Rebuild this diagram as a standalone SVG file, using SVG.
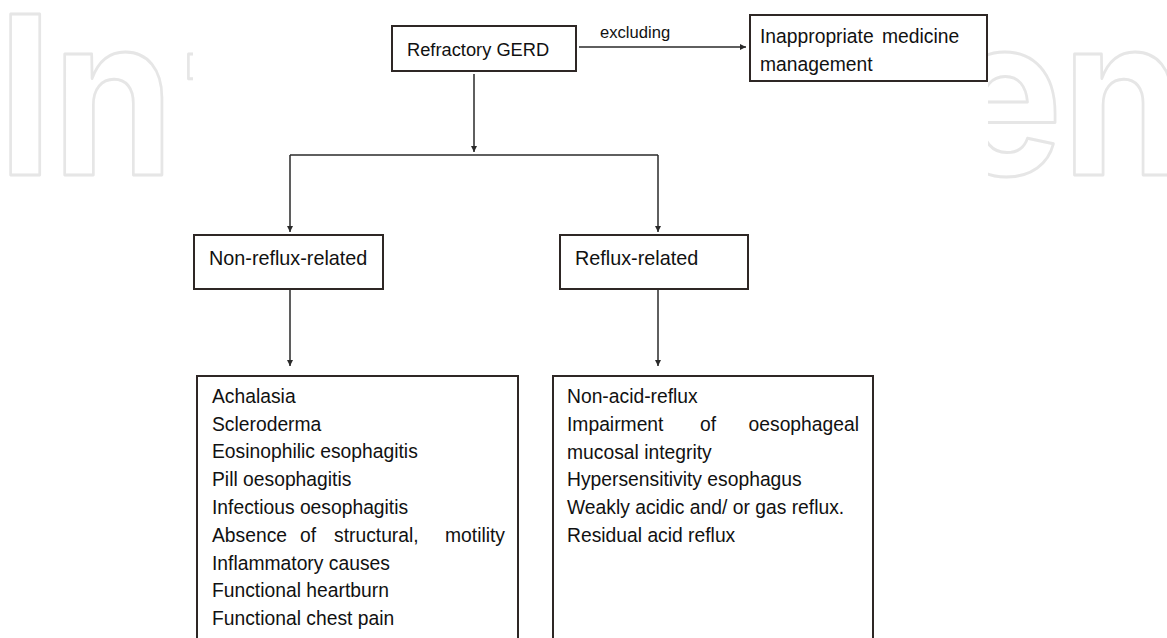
<svg xmlns="http://www.w3.org/2000/svg" width="1167" height="638" viewBox="0 0 1167 638">
<style>
.wm{font-family:Inter,Lato,sans-serif;font-weight:700;font-size:222px;fill:none;stroke:#e6e6e6;stroke-width:3;stroke-linejoin:round}
.box{fill:#fff;stroke:#2e2725;stroke-width:2}
.t{font-family:"Liberation Sans",Arial,sans-serif;font-size:19.3px;fill:#111}
.c{fill:none;stroke:#2a2a2a;stroke-width:1.5}
</style>
<defs>
<marker id="ah" markerUnits="userSpaceOnUse" markerWidth="8" markerHeight="8" refX="6" refY="3" orient="auto">
<path d="M0,0 L6,3 L0,6 Z" fill="#2a2a2a"/>
</marker>
<clipPath id="cl"><rect x="0" y="0" width="193" height="638"/></clipPath>
<clipPath id="cr"><rect x="988" y="0" width="179" height="638"/></clipPath>
</defs>
<rect width="1167" height="638" fill="#fff"/>
<g id="watermark">
<g clip-path="url(#cl)"><text class="wm" x="-2.6" y="175" transform="scale(0.88 1)">In<tspan dx="14">t</tspan></text></g>
<g clip-path="url(#cr)"><text class="wm" x="1075" y="175" transform="scale(0.88 1)">en</text></g>
</g>
<g id="connectors">
<path class="c" d="M474,74 V152" marker-end="url(#ah)"/>
<path class="c" d="M290,155 H658"/>
<path class="c" d="M290,155 V232" marker-end="url(#ah)"/>
<path class="c" d="M658,155 V232" marker-end="url(#ah)"/>
<path class="c" d="M290,290 V366" marker-end="url(#ah)"/>
<path class="c" d="M658,290 V366" marker-end="url(#ah)"/>
<path class="c" d="M579,47 H746" marker-end="url(#ah)"/>
<text class="t" x="600" y="38" style="font-size:16.6px">excluding</text>
</g>
<g id="refractory">
<rect class="box" x="392" y="26" width="184" height="45"/>
<text class="t" x="407" y="56" style="font-size:18.3px">Refractory GERD</text>
</g>
<g id="inappropriate">
<rect class="box" x="750" y="15" width="237" height="66"/>
<text class="t" y="43"><tspan x="760">Inappropriate</tspan><tspan x="882">medicine</tspan></text>
<text class="t" x="760" y="71">management</text>
</g>
<g id="nonreflux">
<rect class="box" x="194" y="235" width="189" height="54"/>
<text class="t" x="209" y="265" style="font-size:19.8px">Non-reflux-related</text>
</g>
<g id="reflux">
<rect class="box" x="560" y="235" width="188" height="54"/>
<text class="t" x="575" y="265" style="font-size:19.8px">Reflux-related</text>
</g>
<g id="nonreflux-causes">
<rect class="box" x="197" y="376" width="321" height="300"/>
<text class="t" x="212" y="403">Achalasia</text>
<text class="t" x="212" y="431">Scleroderma</text>
<text class="t" x="212" y="458">Eosinophilic esophagitis</text>
<text class="t" x="212" y="486">Pill oesophagitis</text>
<text class="t" x="212" y="514">Infectious oesophagitis</text>
<text class="t" y="542"><tspan x="212">Absence</tspan><tspan x="300">of</tspan><tspan x="334">structural,</tspan><tspan x="505" text-anchor="end">motility</tspan></text>
<text class="t" x="212" y="570">Inflammatory causes</text>
<text class="t" x="212" y="597">Functional heartburn</text>
<text class="t" x="212" y="625">Functional chest pain</text>
</g>
<g id="reflux-causes">
<rect class="box" x="553" y="376" width="320" height="300"/>
<text class="t" x="567" y="403">Non-acid-reflux</text>
<text class="t" y="431"><tspan x="567">Impairment</tspan><tspan x="700">of</tspan><tspan x="859" text-anchor="end">oesophageal</tspan></text>
<text class="t" x="567" y="459">mucosal integrity</text>
<text class="t" x="567" y="486">Hypersensitivity esophagus</text>
<text class="t" x="567" y="514">Weakly acidic and/ or gas reflux.</text>
<text class="t" x="567" y="542">Residual acid reflux</text>
</g>
</svg>
